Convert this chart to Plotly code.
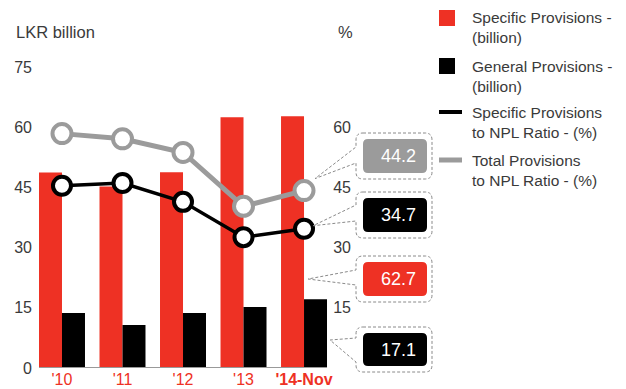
import plotly.graph_objects as go

# ---------------- data ----------------
years = ["'10", "'11", "'12", "'13", "<b>'14-Nov</b>"]
specific_prov = [48.7, 45.2, 48.8, 62.5, 62.7]     # LKR billion
general_prov = [13.7, 10.7, 13.7, 15.2, 17.1]      # LKR billion
specific_ratio = [45.4, 46.1, 41.4, 32.6, 34.7]    # %
total_ratio = [58.4, 57.1, 53.7, 40.3, 44.2]       # %
y_ticks = [0, 15, 30, 45, 60, 75]

RED = "#EE3124"
BLACK = "#000000"
GREY = "#9B9B9B"
TXT = "#3A3A3A"
FONT = "Liberation Sans"

W, H = 626, 389
L, R, T, B = 39, 354, 67, 368            # plot area in pixels
XMIN, XMAX = -0.38, 4.826
YMIN, YMAX = 0, 75
BW = 0.38

def px2x(px):
    return (px - L) / (R - L)

def py2y(py):
    return (B - py) / (B - T)

def cat_px(i):
    return L + (i - XMIN) / (XMAX - XMIN) * (R - L)

def val_py(v):
    return B - (v - YMIN) / (YMAX - YMIN) * (B - T)

xs = list(range(len(years)))

fig = go.Figure()
fig.add_trace(go.Bar(x=xs, y=specific_prov, width=BW, offset=-BW,
                     marker=dict(color=RED, line=dict(width=0)), yaxis="y"))
fig.add_trace(go.Bar(x=xs, y=general_prov, width=BW, offset=0,
                     marker=dict(color=BLACK, line=dict(width=0)), yaxis="y"))
fig.add_trace(go.Scatter(x=xs, y=total_ratio, mode="lines+markers", yaxis="y2",
                         line=dict(color=GREY, width=5), cliponaxis=False,
                         marker=dict(size=19, color="white", line=dict(color=GREY, width=4))))
fig.add_trace(go.Scatter(x=xs, y=specific_ratio, mode="lines+markers", yaxis="y2",
                         line=dict(color=BLACK, width=3.5), cliponaxis=False,
                         marker=dict(size=18, color="white", line=dict(color=BLACK, width=4))))

shapes = []
annotations = []

# baseline spanning the bars
shapes.append(dict(type="line", xref="x", yref="y", x0=XMIN, x1=len(years) - 1 + BW,
                   y0=0, y1=0, line=dict(color="#999999", width=2), layer="above"))

# axis titles
annotations.append(dict(text="LKR billion", xref="paper", yref="paper", x=px2x(14), y=py2y(32),
                        xanchor="left", yanchor="middle", showarrow=False,
                        font=dict(size=16.5, color=TXT, family=FONT)))
annotations.append(dict(text="%", xref="paper", yref="paper", x=px2x(355), y=py2y(32),
                        xanchor="right", yanchor="middle", showarrow=False,
                        font=dict(size=16.5, color=TXT, family=FONT)))

# legend (manual)
leg = [
    ("rect", RED, "Specific Provisions -<br>(billion)", 18),
    ("rect", BLACK, "General Provisions -<br>(billion)", 66),
    ("line", BLACK, "Specific Provisions<br>to NPL Ratio - (%)", 112),
    ("line", GREY, "Total Provisions<br>to NPL Ratio - (%)", 160),
]
for kind, col, label, cy in leg:
    if kind == "rect":
        shapes.append(dict(type="rect", xref="paper", yref="paper",
                           x0=px2x(439), x1=px2x(455), y0=py2y(cy - 8), y1=py2y(cy + 8),
                           fillcolor=col, line=dict(width=0)))
    else:
        shapes.append(dict(type="line", xref="paper", yref="paper",
                           x0=px2x(439), x1=px2x(462), y0=py2y(cy), y1=py2y(cy),
                           line=dict(color=col, width=5 if col == GREY else 4)))
    annotations.append(dict(text=label, xref="paper", yref="paper", x=px2x(470), y=py2y(cy + 10),
                            xanchor="left", yanchor="middle", align="left", showarrow=False,
                            font=dict(size=15.5, color=TXT, family=FONT)))

# callouts
def rounded_rect(x0, y0, x1, y1, r):
    return (f"M{px2x(x0 + r)},{py2y(y0)} L{px2x(x1 - r)},{py2y(y0)} "
            f"Q{px2x(x1)},{py2y(y0)} {px2x(x1)},{py2y(y0 + r)} "
            f"L{px2x(x1)},{py2y(y1 - r)} Q{px2x(x1)},{py2y(y1)} {px2x(x1 - r)},{py2y(y1)} "
            f"L{px2x(x0 + r)},{py2y(y1)} Q{px2x(x0)},{py2y(y1)} {px2x(x0)},{py2y(y1 - r)} "
            f"L{px2x(x0)},{py2y(y0 + r)} Q{px2x(x0)},{py2y(y0)} {px2x(x0 + r)},{py2y(y0)} Z")

def bubble(x0, y0, x1, y1, r, t1, t2, tx, ty):
    return (f"M{px2x(x0 + r)},{py2y(y0)} L{px2x(x1 - r)},{py2y(y0)} "
            f"Q{px2x(x1)},{py2y(y0)} {px2x(x1)},{py2y(y0 + r)} "
            f"L{px2x(x1)},{py2y(y1 - r)} Q{px2x(x1)},{py2y(y1)} {px2x(x1 - r)},{py2y(y1)} "
            f"L{px2x(x0 + r)},{py2y(y1)} Q{px2x(x0)},{py2y(y1)} {px2x(x0)},{py2y(y1 - r)} "
            f"L{px2x(x0)},{py2y(t2)} L{px2x(tx)},{py2y(ty)} L{px2x(x0)},{py2y(t1)} "
            f"L{px2x(x0)},{py2y(y0 + r)} Q{px2x(x0)},{py2y(y0)} {px2x(x0 + r)},{py2y(y0)} Z")

last = len(years) - 1
cx_last = cat_px(last)
bar_right = cat_px(last + BW)
callouts = [
    # value, fill, box top, box bottom, tail top, tail bottom, tip x, tip y
    (total_ratio[last], GREY, 133, 179, 147, 163, cx_last + 11, val_py(total_ratio[last]) - 12),
    (specific_ratio[last], BLACK, 192, 238, 205, 221, cx_last + 9, val_py(specific_ratio[last]) - 3),
    (specific_prov[last], RED, 256, 302, 270, 285, cx_last + 4, 279),
    (general_prov[last], BLACK, 327, 372, 338, 362, bar_right + 3, 340),
]
for v, col, y0, y1, t1, t2, tx, ty in callouts:
    shapes.append(dict(type="path", xref="paper", yref="paper",
                       path=bubble(356, y0, 432, y1, 7, t1, t2, tx, ty),
                       line=dict(color="#8A8A8A", width=1, dash="3px,2px"), fillcolor="rgba(0,0,0,0)"))
    shapes.append(dict(type="path", xref="paper", yref="paper",
                       path=rounded_rect(363, y0 + 6, 427, y1 - 6, 5),
                       line=dict(width=0), fillcolor=col))
    annotations.append(dict(text=f"{v:.1f}", xref="paper", yref="paper",
                            x=px2x(418), y=py2y((y0 + y1) / 2), xanchor="right", yanchor="middle",
                            showarrow=False, font=dict(size=18, color="white", family=FONT)))

fig.update_layout(
    width=W, height=H, autosize=False,
    margin=dict(l=L, r=W - R, t=T, b=H - B, pad=0),
    paper_bgcolor="white", plot_bgcolor="white",
    showlegend=False, barmode="overlay",
    font=dict(family=FONT, color=TXT, size=16),
    xaxis=dict(range=[XMIN, XMAX], tickmode="array", tickvals=xs, ticktext=years,
               showgrid=False, zeroline=False, showline=False, ticks="",
               tickfont=dict(color=RED, size=16, family=FONT), automargin=False,
               ticklabelstandoff=0),
    yaxis=dict(range=[YMIN, YMAX], tickmode="array", tickvals=y_ticks,
               showgrid=False, zeroline=False, showline=False, ticks="",
               tickfont=dict(size=16, color=TXT, family=FONT), automargin=False,
               ticklabelstandoff=6),
    yaxis2=dict(range=[YMIN, YMAX], tickmode="array", tickvals=y_ticks, overlaying="y", side="right",
                showgrid=False, zeroline=False, showline=False, ticks="",
                ticklabelposition="inside",
                tickfont=dict(size=16, color=TXT, family=FONT), automargin=False),
    shapes=shapes, annotations=annotations,
)

fig.write_html("out.html")
